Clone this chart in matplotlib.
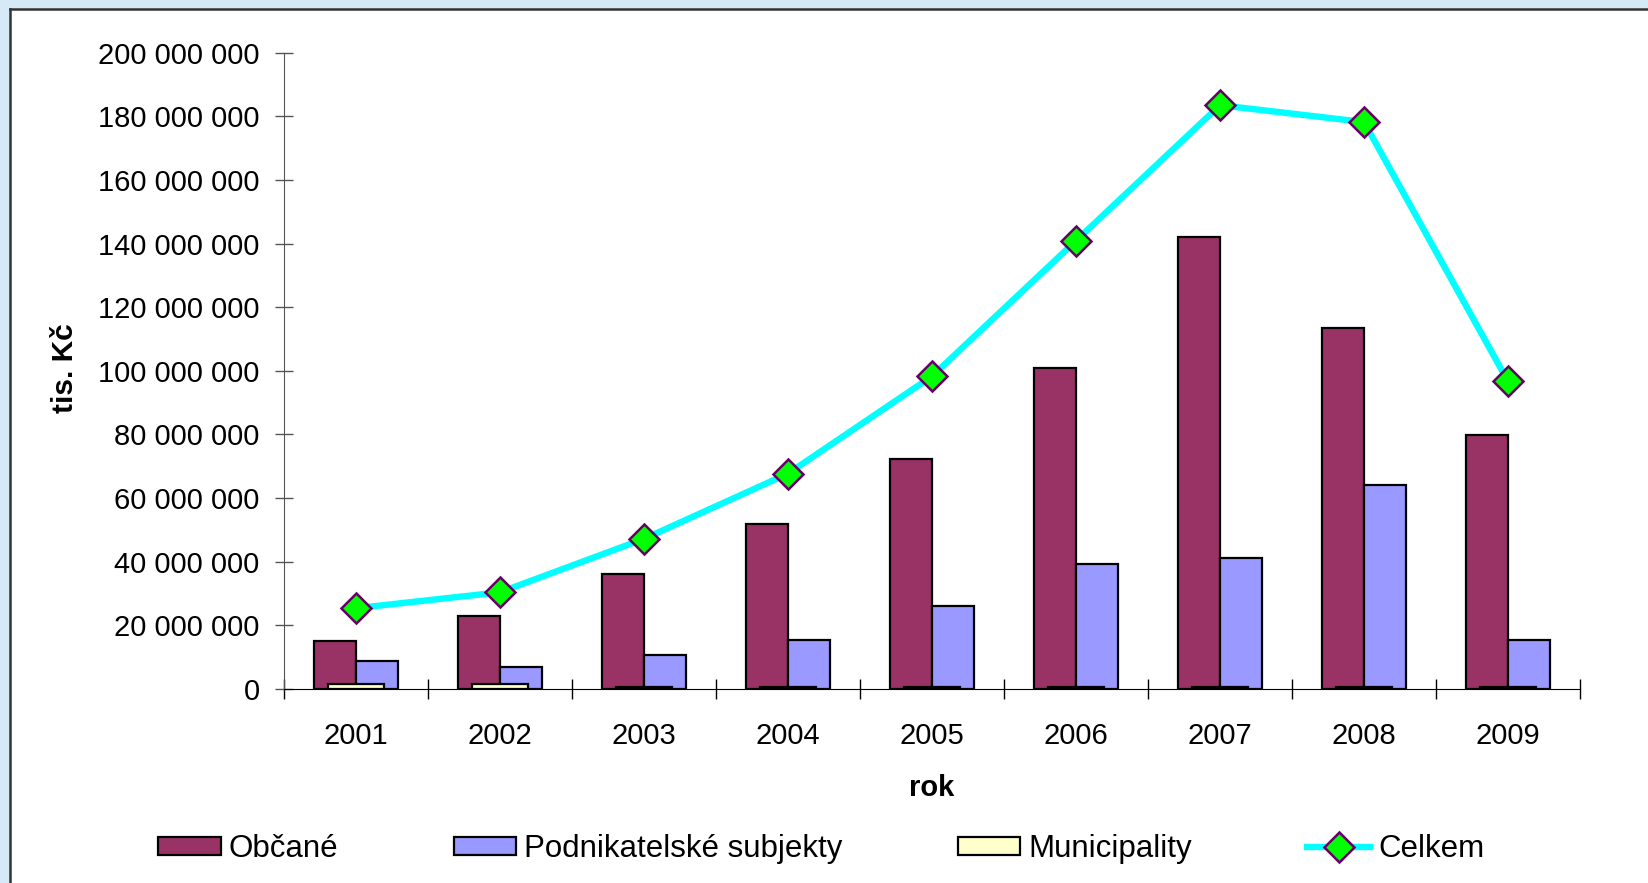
import numpy as np
import matplotlib.pyplot as plt
from matplotlib.patches import Rectangle
from matplotlib.lines import Line2D
from matplotlib.ticker import FuncFormatter

plt.rcParams['font.family'] = ['Liberation Sans', 'DejaVu Sans']

# data
years = ['2001', '2002', '2003', '2004', '2005', '2006', '2007', '2008', '2009']
obcane = [15.0, 22.8, 36.3, 51.8, 72.3, 101.0, 142.2, 113.5, 79.9]
podnik = [8.9, 6.9, 10.6, 15.5, 26.1, 39.3, 41.3, 64.0, 15.5]
municip = [1.5, 1.5, 0.5, 0.5, 0.5, 0.5, 0.5, 0.5, 0.5]
celkem = [25.4, 30.4, 47.2, 67.7, 98.3, 140.9, 183.5, 178.2, 96.7]
yticks = np.arange(0, 201, 20)

W, H = 1648, 883
fig = plt.figure(figsize=(W / 100, H / 100), dpi=100)
fig.patch.set_facecolor('#D5EAF6')

# white inner panel with dark left/top border
fig.patches.append(Rectangle((10 / W, 0), 1, 1 - 9 / H, transform=fig.transFigure,
                             facecolor='white', edgecolor='none', zorder=-5))
fig.lines.append(Line2D([10 / W, 10 / W], [0, 1 - 9 / H], transform=fig.transFigure,
                        color='#333333', lw=1.8, zorder=-4))
fig.lines.append(Line2D([10 / W, 1], [1 - 9 / H, 1 - 9 / H], transform=fig.transFigure,
                        color='#333333', lw=1.8, zorder=-4))

ax = fig.add_axes([284 / W, 1 - 689 / H, (1580 - 284) / W, (689 - 52.7) / H])
ax.set_facecolor('none')

x = np.arange(len(years))
bw = 0.29
scale = 1e6
ax.bar(x - bw / 2, np.array(obcane) * scale, bw, color='#993366', edgecolor='black',
       lw=1.6, label='Občané', zorder=2)
ax.bar(x + bw / 2, np.array(podnik) * scale, bw, color='#9999FF', edgecolor='black',
       lw=1.6, label='Podnikatelské subjekty', zorder=2)
ax.bar(x, np.array(municip) * scale, 0.39, color='#FFFFCC', edgecolor='black',
       lw=1.6, label='Municipality', zorder=3)
ax.plot(x, np.array(celkem) * scale, color='#00FFFF', lw=4.6, marker='D', ms=15,
        mfc='#00FF00', mec='#660066', mew=1.8, label='Celkem', zorder=4, clip_on=False)

ax.set_xlim(-0.5, len(years) - 0.5)
ax.set_ylim(0, 200 * scale)
ax.set_yticks(yticks * scale)
ax.yaxis.set_major_formatter(FuncFormatter(lambda v, p: f'{int(round(v)):,}'.replace(',', ' ')))
ax.set_xticks(x)
ax.set_xticklabels(years)
ax.set_xticks(np.arange(-0.5, len(years)), minor=True)
ax.tick_params(axis='x', which='major', length=0, pad=24, labelsize=21)
ax.tick_params(axis='x', which='minor', direction='inout', length=14, width=1, color='black')
ax.tick_params(axis='y', direction='inout', length=13, width=1, color='#555555',
               pad=11, labelsize=21)

for s in ['top', 'right']:
    ax.spines[s].set_visible(False)
ax.spines['left'].set_color('#555555')
ax.spines['bottom'].set_color('black')
ax.spines['bottom'].set_zorder(5)

fig.text(65 / W, 1 - 368 / H, 'tis. Kč', rotation=90, ha='center', va='center',
         fontsize=21.5, fontweight='bold')
fig.text(932 / W, 1 - 788 / H, 'rok', ha='center', va='center',
         fontsize=21, fontweight='bold')

handles, labels = ax.get_legend_handles_labels()
order = [labels.index(n) for n in ['Občané', 'Podnikatelské subjekty', 'Municipality', 'Celkem']]
fig.legend([handles[i] for i in order], [labels[i] for i in order],
           loc='center left', bbox_to_anchor=(158 / W, 1 - 849 / H),
           ncol=4, frameon=False, fontsize=22.5, handlelength=2.0, handleheight=0.55,
           handletextpad=0.27, columnspacing=3.68, borderpad=0, borderaxespad=0)

fig.savefig('out.png', dpi=100, facecolor=fig.get_facecolor())
